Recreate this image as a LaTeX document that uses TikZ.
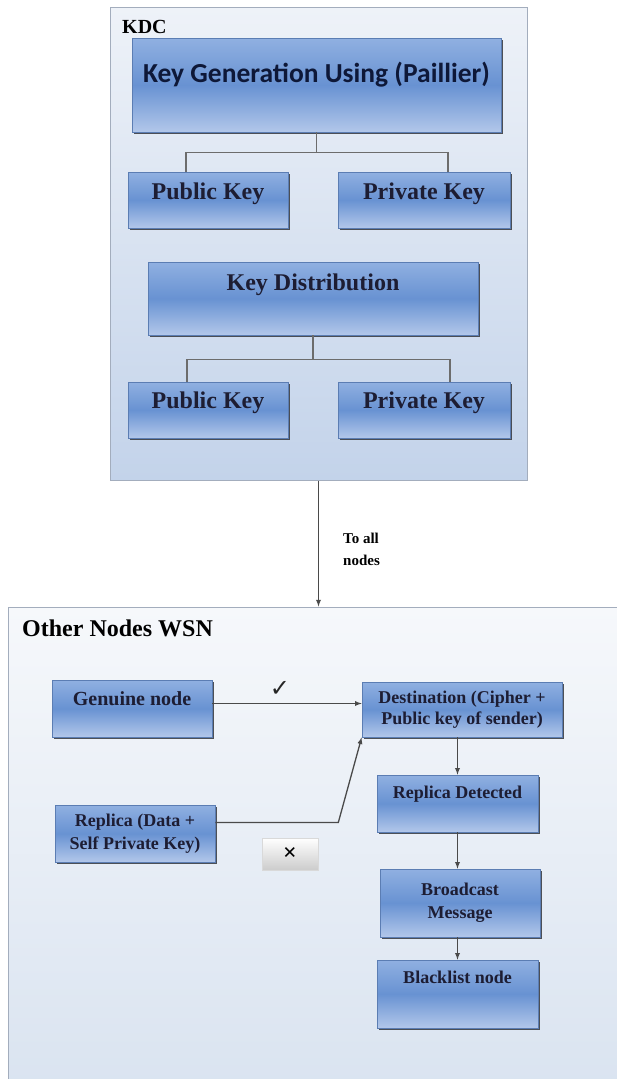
\documentclass[tikz,border=0pt]{standalone}
\usepackage{fontspec}
\setmainfont{Liberation Serif}
\newfontfamily\titlefont{Carlito}
\newfontfamily\symbolfont{DejaVu Sans}
\usepackage{tikz}
\usepackage{xcolor}
\usetikzlibrary{arrows, shadows, calc}
\definecolor{boxtop}{HTML}{90B0E1}
\definecolor{boxmid}{HTML}{6892D2}
\definecolor{boxbot}{HTML}{B2C7EA}
\definecolor{boxedge}{HTML}{5B7DB3}
\definecolor{boxshadow}{HTML}{3C3F45}
\definecolor{boxtext}{HTML}{1D1D33}
\definecolor{titletext}{HTML}{0E1838}
\definecolor{kdctop}{HTML}{EEF2F8}
\definecolor{kdcbot}{HTML}{C3D3EA}
\definecolor{wsntop}{HTML}{F6F8FB}
\definecolor{wsnbot}{HTML}{D9E3F0}
\definecolor{outeredge}{HTML}{A3ADBD}
\definecolor{linegray}{HTML}{6C6C6C}
\definecolor{arrowgray}{HTML}{4A4A4A}
\tikzstyle{outerbox}=[draw=outeredge, line width=1pt, inner sep=0pt]
\tikzstyle{keybox}=[draw=boxedge, line width=0.6pt, top color=boxtop, bottom color=boxbot, middle color=boxmid, inner xsep=2pt, inner ysep=0pt, text=boxtext, drop shadow={shadow xshift=1.5pt, shadow yshift=-2pt, fill=boxshadow, opacity=0.9}]
\tikzstyle{crossbox}=[top color=white, bottom color=gray!40, draw=gray!30, inner sep=0pt]
\tikzstyle{tree}=[draw=linegray, line width=1.5pt]
\tikzstyle{arr}=[draw=arrowgray, line width=1.3pt, -latex]
\newcommand\BigBold{\fontsize{24}{26}\selectfont\bfseries}
\newcommand\MidBold{\fontsize{18}{22}\selectfont\bfseries}

\begin{document}
\begin{tikzpicture}[x=1pt, y=-1pt]
  \clip (0,0) rectangle (617,1079);

  % KDC part
  \node[outerbox, top color=kdctop, bottom color=kdcbot, minimum width=417pt, minimum height=473pt] (kdc) at (318.5,243.5) {};
  \node[anchor=base west, inner sep=0pt, font=\fontsize{20}{22}\selectfont\bfseries] (kdclabel) at (122,33) {KDC};

  \node[keybox, minimum width=369pt, text height=44pt, text depth=50pt, text=titletext, font=\titlefont\fontsize{27.5}{30}\selectfont\bfseries] (keygen) at (316.5,85) {Key Generation Using (Paillier)};
  \node[keybox, minimum width=160pt, text height=27pt, text depth=29pt, font=\BigBold] (pub1) at (208,200) {Public Key};
  \node[keybox, minimum width=172pt, text height=27pt, text depth=29pt, font=\BigBold] (priv1) at (424,200) {Private Key};

  \node[keybox, minimum width=330pt, text height=28pt, text depth=45pt, font=\BigBold] (keydist) at (313,298.5) {Key Distribution};
  \node[keybox, minimum width=160pt, text height=26pt, text depth=30pt, font=\BigBold] (pub2) at (208,410) {Public Key};
  \node[keybox, minimum width=172pt, text height=26pt, text depth=30pt, font=\BigBold] (priv2) at (424,410) {Private Key};

  \draw[tree] (keygen.south) -- ++(0,20) coordinate (fork1);
  \draw[tree] ([xshift=-22pt]pub1.north) |- (fork1) -| ([xshift=24pt]priv1.north);
  \draw[tree] (keydist.south) -- ++(0,24) coordinate (fork2);
  \draw[tree] ([xshift=-21pt]pub2.north) |- (fork2) -| ([xshift=26pt]priv2.north);

  % WSN part
  \node[outerbox, top color=wsntop, bottom color=wsnbot, minimum width=632pt, minimum height=493pt] (wsn) at (324,853.5) {};
  \node[anchor=base west, inner sep=0pt, font=\BigBold] (wsnlabel) at (22,636) {Other Nodes WSN};

  \draw[arr] (kdc.south) -- (kdc.south |- wsn.north);
  \node[anchor=west, align=left, inner sep=0pt, font=\fontsize{15}{22}\selectfont\bfseries] (toall) at (343,549) {To all\\nodes};

  \node[keybox, minimum width=160pt, text height=25pt, text depth=32pt, font=\fontsize{20}{22}\selectfont\bfseries] (genuine) at (132,708.5) {Genuine node};
  \node[keybox, minimum width=200pt, minimum height=55pt, align=center, font=\fontsize{18}{21}\selectfont\bfseries] (dest) at (462,709.5) {Destination (Cipher +\\Public key of sender)};
  \node[keybox, minimum width=160pt, minimum height=57pt, align=center, font=\fontsize{18}{23}\selectfont\bfseries] (replica) at (135,833.5) {Replica (Data +\\Self Private Key)};
  \node[keybox, minimum width=161pt, text height=23pt, text depth=34pt, font=\MidBold] (repdet) at (457.5,803.5) {Replica Detected};
  \node[keybox, minimum width=160pt, minimum height=68pt, align=center, font=\fontsize{18}{23}\selectfont\bfseries] (bcast) at (460,903) {Broadcast\\Message};
  \node[keybox, minimum width=161pt, text height=23pt, text depth=45pt, font=\MidBold] (black) at (457.5,994) {Blacklist node};

  \node[font=\symbolfont\bfseries\fontsize{24}{24}\selectfont, text=black!85] (tick) at (280,689) {✓};
  \node[crossbox, minimum width=56pt, minimum height=32pt, font=\fontsize{24}{24}\selectfont\bfseries] (reject) at (290,854) {×};

  \draw[arr] ($(genuine.east)+(0,-5)$) -- ($(genuine.east -| dest.west)+(0,-5)$);
  \draw[arr] ($(replica.east)+(0,-11)$) -- ++(123,0) -- (dest.south west);
  \draw[arr] (dest.south -| repdet.north) -- (repdet.north);
  \draw[arr] (repdet.south) -- (repdet.south |- bcast.north);
  \draw[arr] (bcast.south -| black.north) -- (black.north);
\end{tikzpicture}
\end{document}
